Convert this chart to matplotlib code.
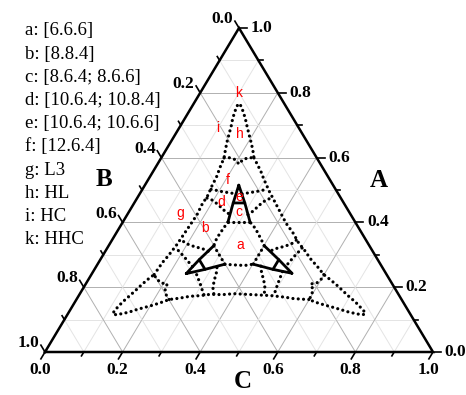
import numpy as np
import matplotlib.pyplot as plt

# ---- data: ternary fractions (A, C), with B = 1 - A - C ----
# one third of the figure (top part); the other two thirds are the
# same boundaries read with the A->B->C roles cycled (the map is 3-fold symmetric)

# outer boundary: left g side going up into the top (h) lobe
outer_A = [0.239, 0.256, 0.278, 0.296, 0.330, 0.361, 0.392, 0.423, 0.454, 0.485,
           0.512, 0.540, 0.571, 0.599, 0.624, 0.648, 0.673, 0.698, 0.722, 0.744,
           0.758, 0.767, 0.758, 0.744, 0.722, 0.698, 0.673, 0.648, 0.624, 0.599]
outer_C = [0.162, 0.163, 0.165, 0.169, 0.174, 0.176, 0.178, 0.180, 0.177, 0.178,
           0.174, 0.172, 0.166, 0.162, 0.153, 0.145, 0.138, 0.131, 0.123, 0.118,
           0.115, 0.1165, 0.127, 0.138, 0.155, 0.1715, 0.189, 0.207, 0.2235, 0.239]

# V closing the bottom of the lobe
vee_A = [0.599, 0.600, 0.594, 0.580, 0.594, 0.600, 0.599]
vee_C = [0.162, 0.174, 0.193, 0.210, 0.213, 0.226, 0.239]

# d / f boundaries
df_left_A = [0.502, 0.499, 0.495, 0.492, 0.488]
df_left_C = [0.177, 0.192, 0.209, 0.226, 0.249]
df_right_A = [0.488, 0.492, 0.495, 0.499, 0.502]
df_right_C = [0.264, 0.282, 0.296, 0.310, 0.322]

# d / b boundaries
db_left_A = [0.475, 0.469, 0.458, 0.446, 0.435, 0.424]
db_left_C = [0.180, 0.196, 0.214, 0.231, 0.246, 0.265]
db_right_A = [0.424, 0.435, 0.446, 0.458, 0.469, 0.475]
db_right_C = [0.311, 0.319, 0.323, 0.328, 0.335, 0.345]

# e triangle and c sides (solid)
e_A = [0.515, 0.460, 0.460, 0.515]
e_C = [0.242, 0.255, 0.285, 0.242]
c_left_A = [0.460, 0.401]
c_left_C = [0.255, 0.271]
c_right_A = [0.460, 0.401]
c_right_C = [0.285, 0.328]

# c / a boundary and a / b boundary (dotted)
c_bot_A = [0.401, 0.401]
c_bot_C = [0.271, 0.328]
a_side_A = [0.401, 0.382, 0.366, 0.352, 0.328]
a_side_C = [0.271, 0.269, 0.268, 0.267, 0.271]

legend_lines = ['a: [6.6.6]', 'b: [8.8.4]', 'c: [8.6.4; 8.6.6]', 'd: [10.6.4; 10.8.4]',
                'e: [10.6.4; 10.6.6]', 'f: [12.6.4]', 'g: L3', 'h: HL', 'i: HC', 'k: HHC']

region_names = ['k', 'i', 'h', 'f', 'e', 'd', 'c', 'g', 'b', 'a']
region_x = [0.500, 0.446, 0.503, 0.472, 0.500, 0.454, 0.500, 0.348, 0.412, 0.503]
region_y = [0.799, 0.691, 0.673, 0.531, 0.478, 0.463, 0.432, 0.429, 0.383, 0.330]

tick_vals = [0.0, 0.2, 0.4, 0.6, 0.8, 1.0]
minor_vals = [0.1, 0.3, 0.5, 0.7, 0.9]


def cycle(A, C, k):
    A = np.array(A, float)
    C = np.array(C, float)
    for _ in range(k):
        A, C = C, 1 - A - C
    return A, C


def to_xy(A, C):
    A = np.asarray(A)
    C = np.asarray(C)
    return C + A / 2, A


# pixel offsets -> axes units (triangle is 388 x 324 px)
PX = 1 / 388.
PY = 1 / 324.

fig = plt.figure(figsize=(4.66, 3.95), dpi=100)
ax = fig.add_axes([45 / 466, 43 / 395, 388 / 466, 324 / 395])
ax.set_xlim(0, 1)
ax.set_ylim(0, 1)
ax.axis('off')

# grid
for v in np.arange(1, 10) / 10:
    col = '#b0b0b0' if round(v * 10) % 2 == 0 else '#e4e4e4'
    ax.plot([v / 2, 1 - v / 2], [v, v], color=col, lw=0.7, zorder=1)
    ax.plot([v, v + (1 - v) / 2], [0, 1 - v], color=col, lw=0.7, zorder=1)
    ax.plot([1 - v, (1 - v) / 2], [0, 1 - v], color=col, lw=0.7, zorder=1)

# triangle frame
ax.plot([0, 1, 0.5, 0], [0, 0, 1, 0], color='black', lw=1.8, zorder=3,
        solid_joinstyle='miter', clip_on=False)

# ticks
dl = np.array([-0.514, 0.858])   # outward along constant-B lines (left edge)
db = np.array([-0.514, -0.858])  # outward along constant-C lines (bottom edge)
for v in tick_vals + minor_vals:
    L = 8 if v in tick_vals else 4.5
    # bottom (C)
    ax.plot([v, v + db[0] * L * PX], [0, db[1] * L * PY], color='black', lw=1.2, clip_on=False)
    # left (B)
    x0, y0 = (1 - v) / 2, 1 - v
    ax.plot([x0, x0 + dl[0] * L * PX], [y0, y0 + dl[1] * L * PY], color='black', lw=1.2, clip_on=False)
    # right (A)
    x0, y0 = 1 - v / 2, v
    ax.plot([x0, x0 + L * PX], [y0, y0], color='black', lw=1.2, clip_on=False)

tfont = dict(family='Liberation Serif', fontsize=12.5, fontweight='bold',
             ha='center', va='center', clip_on=False)
for v in tick_vals:
    s = '%.1f' % v
    ax.text(v - 5 * PX, -18 * PY, s, **tfont)
    ax.text((1 - v) / 2 - 16.5 * PX, 1 - v + 8.7 * PY, s, **tfont)
    ax.text(1 - v / 2 + 22.5 * PX, v, s, **tfont)

afont = dict(family='Liberation Serif', fontsize=18, fontweight='bold',
             ha='center', va='center', clip_on=False)
ax.text((104.5 - 45) * PX, (352 - 179) * PY, 'B', **afont)
ax.text((378.5 - 45) * PX, (352 - 180) * PY, 'A', **afont)
ax.text((243 - 45) * PX, (352 - 381) * PY, 'C', **afont)

# phase boundaries
dot = dict(color='black', lw=2.3, linestyle=(0, (0.01, 1.65)),
           dash_capstyle='round', zorder=5)
solid = dict(color='black', lw=2.0, solid_capstyle='round',
             solid_joinstyle='round', zorder=5)
dotted_curves = [(outer_A, outer_C), (vee_A, vee_C),
                 (df_left_A, df_left_C), (df_right_A, df_right_C),
                 (db_left_A, db_left_C), (db_right_A, db_right_C),
                 (c_bot_A, c_bot_C), (a_side_A, a_side_C)]
solid_curves = [(e_A, e_C), (c_left_A, c_left_C), (c_right_A, c_right_C)]

for k in range(3):
    for A, C in dotted_curves:
        x, y = to_xy(*cycle(A, C, k))
        ax.plot(x, y, **dot)
    for A, C in solid_curves:
        x, y = to_xy(*cycle(A, C, k))
        ax.plot(x, y, **solid)

# region labels
for name, x, y in zip(region_names, region_x, region_y):
    ax.text(x, y, name, color='red', fontsize=10, family='Liberation Sans',
            ha='center', va='center', zorder=6)

# legend text
for i, s in enumerate(legend_lines):
    fig.text(25 / 466, 1 - (31 + 23.2 * i) / 395, s, family='Liberation Serif',
             fontsize=13.5, ha='left', va='center')

fig.savefig('out.png', dpi=100)
